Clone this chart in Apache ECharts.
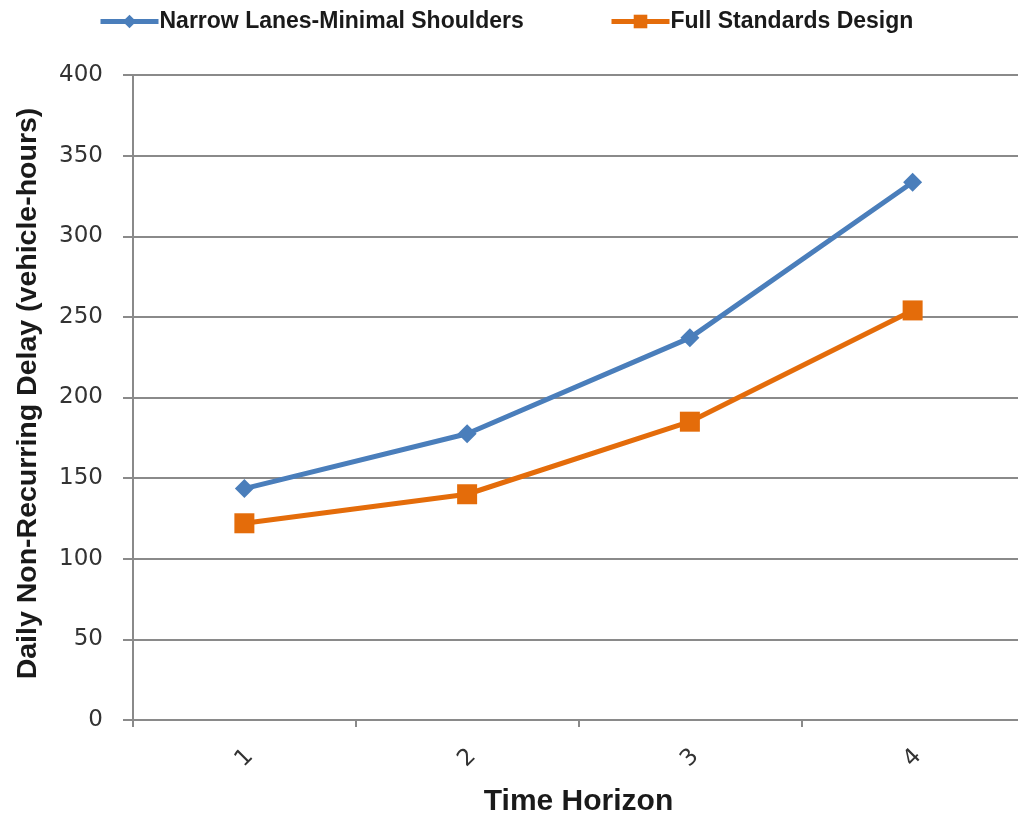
<!DOCTYPE html>
<html><head><meta charset="utf-8">
<script src="https://cdn.jsdelivr.net/npm/echarts@6/dist/echarts.min.js"></script>
<style>html,body{margin:0;padding:0;background:#fff}#c{width:1018px;height:819px}</style>
</head><body><div id="c"></div>
<script>
const categories = ['1', '2', '3', '4'];
const narrowLanes = [143.5, 177.5, 237, 333.5];
const fullStandards = [122, 140, 185, 254];
const seriesNames = ['Narrow Lanes-Minimal Shoulders', 'Full Standards Design'];

const chart = echarts.init(document.getElementById('c'));
const legendText = { fontFamily: 'Liberation Sans', fontSize: 23, fontWeight: 'bold', color: '#1a1a1a', padding: [0,0,0,-4] };
const legendBase = { top: 5, itemWidth: 58, itemHeight: 17, lineStyle: { width: 5 }, textStyle: legendText };
chart.setOption({
  animation: false,
  backgroundColor: '#fff',
  legend: [
    Object.assign({ left: 93, data: [seriesNames[0]] }, legendBase),
    Object.assign({ left: 604, data: [seriesNames[1]] }, legendBase)
  ],
  grid: { left: 133, top: 75, width: 891, height: 645, containLabel: false, outerBoundsMode: 'none' },
  xAxis: {
    type: 'category', data: categories, boundaryGap: true,
    name: 'Time Horizon', nameLocation: 'middle', nameGap: 67,
    nameTextStyle: { fontFamily: 'Liberation Sans', fontSize: 30, fontWeight: 'bold', color: '#1a1a1a' },
    axisLine: { lineStyle: { color: '#8a8a8a', width: 2 } },
    axisTick: { show: true, length: 7, lineStyle: { color: '#8a8a8a', width: 2 } },
    axisLabel: { rotate: 45, margin: 38, align: 'center', verticalAlign: 'middle', fontFamily: 'DejaVu Sans', fontSize: 23, color: '#333' }
  },
  yAxis: {
    type: 'value', min: 0, max: 400, interval: 50,
    name: 'Daily Non-Recurring Delay (vehicle-hours)', nameLocation: 'middle', nameGap: 90,
    nameTextStyle: { fontFamily: 'Liberation Sans', fontSize: 28.5, fontWeight: 'bold', color: '#1a1a1a', padding: [0,0,0,8] },
    axisLine: { show: true, lineStyle: { color: '#8a8a8a', width: 2 } },
    axisTick: { show: true, length: 10, lineStyle: { color: '#8a8a8a', width: 2 } },
    axisLabel: { margin: 30, fontFamily: 'DejaVu Sans', fontSize: 23, color: '#333' },
    splitLine: { lineStyle: { color: '#8a8a8a', width: 2 } }
  },
  series: [
    { name: seriesNames[0], type: 'line', data: narrowLanes,
      symbol: 'diamond', symbolSize: 19,
      lineStyle: { color: '#4a7ebb', width: 5 }, itemStyle: { color: '#4a7ebb' } },
    { name: seriesNames[1], type: 'line', data: fullStandards,
      symbol: 'rect', symbolSize: 20,
      lineStyle: { color: '#e46c0a', width: 5 }, itemStyle: { color: '#e46c0a' } }
  ]
});
</script></body></html>
